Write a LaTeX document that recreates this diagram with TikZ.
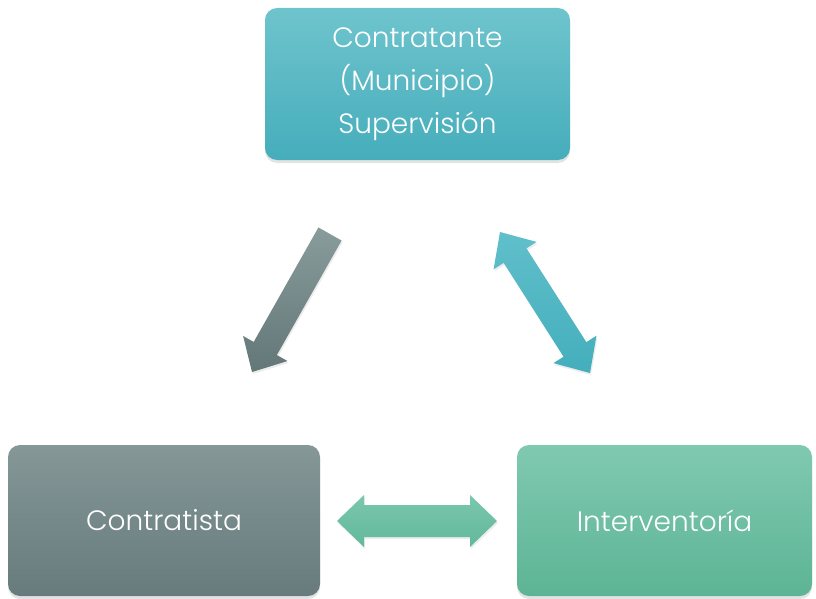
\documentclass[tikz,border=0pt]{standalone}
\usepackage{fontspec}
\setmainfont{Poppins}[UprightFont=* Light]
\usetikzlibrary{calc,shadows}
\definecolor{tealtop}{HTML}{6EC4CD}
\definecolor{tealbot}{HTML}{46ADBB}
\definecolor{graytop}{HTML}{859797}
\definecolor{graybot}{HTML}{677B7D}
\definecolor{greentop}{HTML}{80C9B1}
\definecolor{greenbot}{HTML}{5DB495}
\definecolor{garrtop}{HTML}{889C9C}
\definecolor{garrbot}{HTML}{637778}
\definecolor{tarrtop}{HTML}{60BFCA}
\definecolor{tarrbot}{HTML}{44AEBC}
\definecolor{harrtop}{HTML}{7AC7AD}
\definecolor{harrbot}{HTML}{62B89A}
\tikzset{
  box/.style={rounded corners=12pt, draw=none, text=white,
    font=\fontsize{28}{43}\selectfont, align=center,
    drop shadow={shadow xshift=0pt, shadow yshift=-3pt, opacity=0.22}},
  arrowshape/.style={draw=none,
    drop shadow={shadow xshift=1pt, shadow yshift=-2pt, opacity=0.15}}
}
\begin{document}
\begin{tikzpicture}[x=1pt,y=1pt]
\useasboundingbox (0,0) rectangle (816,-599);
% boxes
\node[box, top color=tealtop, bottom color=tealbot, minimum width=305pt, minimum height=152pt]
  (top) at (417.5,-84) {Contratante\\(Municipio)\\Supervisión};
\node[box, top color=graytop, bottom color=graybot, minimum width=312pt, minimum height=151pt]
  (left) at (164,-520.5) {Contratista};
\node[box, top color=greentop, bottom color=greenbot, minimum width=295pt, minimum height=151pt]
  (right) at (664.5,-520.5) {Interventoría};
% arrow end points
\coordinate (la) at (330,-234);
\coordinate (lb) at (252,-372);
\coordinate (ra) at (500,-232);
\coordinate (rb) at (590,-373);
\coordinate (ha) at (337,-521);
\coordinate (hb) at (497,-521);
% single arrow (left)
\coordinate (lc) at ($(lb)!27pt!(la)$);
\path[arrowshape, top color=garrtop, bottom color=garrbot]
  ($(la)!13.3pt!90:(lb)$) -- ($(lc)!13.3pt!-90:(la)$) -- ($(lc)!25.5pt!-90:(la)$) -- (lb)
  -- ($(lc)!25.5pt!90:(la)$) -- ($(lc)!13.3pt!90:(la)$) -- ($(la)!13.3pt!-90:(lb)$) -- cycle;
% double arrow (right)
\coordinate (rc1) at ($(ra)!28pt!(rb)$);
\coordinate (rc2) at ($(rb)!28pt!(ra)$);
\path[arrowshape, top color=tarrtop, bottom color=tarrbot]
  (ra) -- ($(rc1)!25.5pt!90:(rb)$) -- ($(rc1)!13.5pt!90:(rb)$) -- ($(rc2)!13.5pt!-90:(ra)$)
  -- ($(rc2)!25.5pt!-90:(ra)$) -- (rb) -- ($(rc2)!25.5pt!90:(ra)$) -- ($(rc2)!13.5pt!90:(ra)$)
  -- ($(rc1)!13.5pt!-90:(rb)$) -- ($(rc1)!25.5pt!-90:(rb)$) -- cycle;
% double arrow (horizontal)
\coordinate (hc1) at ($(ha)!27pt!(hb)$);
\coordinate (hc2) at ($(hb)!27pt!(ha)$);
\path[arrowshape, top color=harrtop, bottom color=harrbot]
  (ha) -- ($(hc1)!26pt!90:(hb)$) -- ($(hc1)!16pt!90:(hb)$) -- ($(hc2)!16pt!-90:(ha)$)
  -- ($(hc2)!26pt!-90:(ha)$) -- (hb) -- ($(hc2)!26pt!90:(ha)$) -- ($(hc2)!16pt!90:(ha)$)
  -- ($(hc1)!16pt!-90:(hb)$) -- ($(hc1)!26pt!-90:(hb)$) -- cycle;
\end{tikzpicture}
\end{document}
